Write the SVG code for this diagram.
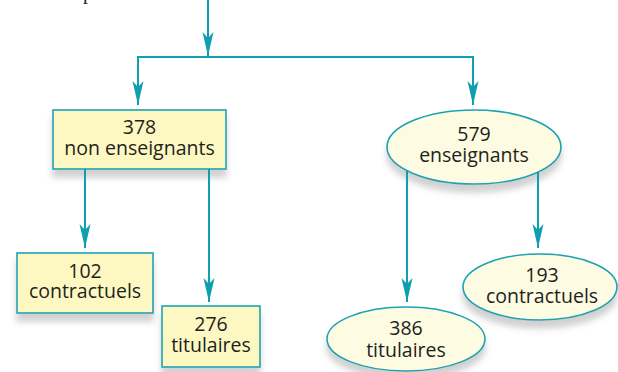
<svg xmlns="http://www.w3.org/2000/svg" width="618" height="372" viewBox="0 0 618 372">
<style>
.box{fill:#fdf8c2;stroke:#1ba3b3;stroke-width:1.6}
.ell{fill:#fdfbe1;stroke:#1ba3b3;stroke-width:1.6}
.lbl{font-family:"Open Sans","Liberation Sans",sans-serif;font-size:19.5px;fill:#231f20;text-anchor:middle}
.con{fill:none;stroke:#0f9fb0;stroke-width:2}
</style>
<defs>
<filter id="sh" x="-10%" y="-10%" width="120%" height="140%">
<feDropShadow dx="0" dy="8" stdDeviation="3" flood-color="#9a9a9a" flood-opacity="0.45"/>
</filter>
<marker id="ah" markerUnits="userSpaceOnUse" markerWidth="30" markerHeight="16" viewBox="-26 -8 28 16" refX="0" refY="0" orient="auto">
<path d="M0,0 L-24,-5.5 L-18,0 L-24,5.5 Z" fill="#0f9fb0"/>
</marker>
</defs>
<text x="83" y="-1" font-family="Liberation Serif,serif" font-size="20" fill="#231f20">p</text>
<g id="n378">
<rect class="box" x="53" y="110" width="173" height="59" filter="url(#sh)"/>
<text class="lbl" x="139.5" y="134">378</text>
<text class="lbl" x="139.5" y="155">non enseignants</text>
</g>
<g id="n579">
<ellipse class="ell" cx="474" cy="147" rx="87" ry="37" filter="url(#sh)"/>
<text class="lbl" x="474" y="141">579</text>
<text class="lbl" x="474" y="161.5">enseignants</text>
</g>
<g id="n102">
<rect class="box" x="17" y="253" width="136" height="60" filter="url(#sh)"/>
<text class="lbl" x="85" y="277.5">102</text>
<text class="lbl" x="85" y="298">contractuels</text>
</g>
<g id="n276">
<rect class="box" x="162" y="306" width="98" height="61" filter="url(#sh)"/>
<text class="lbl" x="211" y="331">276</text>
<text class="lbl" x="211" y="351.5">titulaires</text>
</g>
<g id="n386">
<ellipse class="ell" cx="406" cy="339" rx="79" ry="32" filter="url(#sh)"/>
<text class="lbl" x="406" y="335">386</text>
<text class="lbl" x="406" y="356.5">titulaires</text>
</g>
<g id="n193">
<ellipse class="ell" cx="540" cy="287" rx="77" ry="33" filter="url(#sh)"/>
<text class="lbl" x="542" y="281.5">193</text>
<text class="lbl" x="542" y="302.5">contractuels</text>
</g>
<g id="connectors">
<path class="con" d="M208,0 V56" marker-end="url(#ah)"/>
<path class="con" d="M138,105 V57 H473 V105"/>
<path class="con" d="M138,57 V105" marker-end="url(#ah)"/>
<path class="con" d="M473,57 V105" marker-end="url(#ah)"/>
<path class="con" d="M85,169 V248" marker-end="url(#ah)"/>
<path class="con" d="M209,169 V302" marker-end="url(#ah)"/>
<path class="con" d="M407,170.5 V302" marker-end="url(#ah)"/>
<path class="con" d="M538,172 V248" marker-end="url(#ah)"/>
</g>
</svg>
